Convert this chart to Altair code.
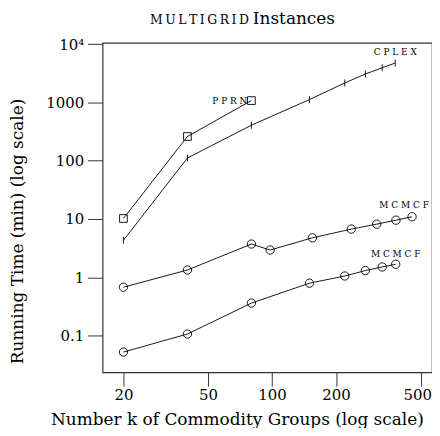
import altair as alt
import pandas as pd

# ---- data ----
cplex_k = [20, 40, 80, 150, 220, 275, 330, 380]
cplex_t = [4.3, 111, 406, 1117, 2154, 3070, 3934, 4732]

pprn_k = [20, 40, 80]
pprn_t = [10.2, 260, 1074]

mcmcf_a_k = [20, 40, 80, 98, 155, 236, 311, 383, 456]
mcmcf_a_t = [0.675, 1.33, 3.71, 2.93, 4.75, 6.69, 8.15, 9.53, 10.9]

mcmcf_b_k = [20, 40, 80, 150, 220, 275, 330, 382]
mcmcf_b_t = [0.052, 0.106, 0.36, 0.79, 1.05, 1.30, 1.50, 1.67]

x_ticks = [20, 50, 100, 200, 500]
y_ticks = [0.1, 1, 10, 100, 1000, 10000]

FONT = "DejaVu Serif"
TS = "\u2009"  # thin space for small-caps look

def frame(name, ks, ts):
    return pd.DataFrame({"series": name, "k": ks, "t": ts})

cplex = frame("CPLEX", cplex_k, cplex_t)
pprn = frame("PPRN", pprn_k, pprn_t)
ma = frame("MCMCF_A", mcmcf_a_k, mcmcf_a_t)
mb = frame("MCMCF_B", mcmcf_b_k, mcmcf_b_t)
alld = pd.concat([cplex, pprn, ma, mb], ignore_index=True)

xs = alt.Scale(type="log", domain=[15.95, 566], nice=False)
ys = alt.Scale(type="log", domain=[0.0234, 10520], nice=False)

X = alt.X("k:Q", scale=xs, axis=alt.Axis(
    values=x_ticks, format="~g", title="Number k of Commodity Groups (log scale)",
    grid=False, domain=False, tickSize=14, tickColor="#333", labelPadding=1,
    labelFlush=12, labelFlushOffset=11,
    labelFont=FONT, labelFontSize=15, labelColor="black",
    titleFont=FONT, titleFontSize=17, titleFontWeight="normal", titleColor="black",
    titleX=135, titleY=47, titleBaseline="middle", titleAnchor="middle", titleAlign="center"))
Y = alt.Y("t:Q", scale=ys, axis=alt.Axis(
    values=y_ticks, labelExpr="datum.value == 10000 ? '10⁴' : format(datum.value, '~g')",
    title="Running Time (min) (log scale)",
    grid=False, domain=False, tickSize=15, tickColor="#333", labelPadding=4,
    labelFont=FONT, labelFontSize=15, labelColor="black",
    titleFont=FONT, titleFontSize=17, titleFontWeight="normal", titleColor="black",
    titleAngle=270, titleX=-85, titleY=189, titleBaseline="middle", titleAlign="center"))

lines = alt.Chart(alld).mark_line(color="black", strokeWidth=0.9).encode(
    x=X, y=Y, detail="series:N")

circles = alt.Chart(pd.concat([ma, mb])).mark_point(
    shape="circle", size=70, filled=False, color="black", strokeWidth=0.9, opacity=1
).encode(x=X, y=Y)

squares = alt.Chart(pprn).mark_point(
    shape="square", size=60, filled=False, color="black", strokeWidth=0.9, opacity=1
).encode(x=X, y=Y)

ticks = alt.Chart(cplex).mark_point(
    shape="M0,-1L0,1", size=49, filled=False, color="black", strokeWidth=0.9, opacity=1
).encode(x=X, y=Y)

def last(df):
    return df.tail(1)

lab_style = dict(font=FONT, fontSize=9, color="black")
lab_cplex = alt.Chart(last(cplex)).mark_text(align="center", baseline="middle", dy=-11, **lab_style).encode(
    x=X, y=Y, text=alt.value("C P L E X"))
lab_pprn = alt.Chart(last(pprn)).mark_text(align="right", baseline="middle", dx=-4, **lab_style).encode(
    x=X, y=Y, text=alt.value("P P R N"))
lab_ma = alt.Chart(last(ma)).mark_text(align="center", baseline="middle", dx=-8, dy=-12, **lab_style).encode(
    x=X, y=Y, text=alt.value("M C M C F"))
lab_mb = alt.Chart(last(mb)).mark_text(align="center", baseline="middle", dx=0, dy=-10, **lab_style).encode(
    x=X, y=Y, text=alt.value("M C M C F"))

title_a = alt.Chart(pd.DataFrame({"s": [TS.join("MULTIGRID")]})).mark_text(
    font=FONT, fontSize=12.5, align="right", baseline="alphabetic", color="black"
).encode(x=alt.value(147), y=alt.value(-19), text="s:N")
title_b = alt.Chart(pd.DataFrame({"s": ["Instances"]})).mark_text(
    font=FONT, fontSize=17, align="left", baseline="alphabetic", color="black"
).encode(x=alt.value(151), y=alt.value(-19), text="s:N")

chart = alt.layer(lines, circles, squares, ticks, lab_cplex, lab_pprn, lab_ma, lab_mb,
                  title_a, title_b).properties(
    width=331, height=331,
    autosize=alt.AutoSizeParams(type="none"),
    padding={"left": 95, "top": 34, "right": 0, "bottom": 55},
).configure_view(stroke="#333", strokeWidth=1.2)

chart.save("out.html", embed_options={"renderer": "svg", "actions": False})
